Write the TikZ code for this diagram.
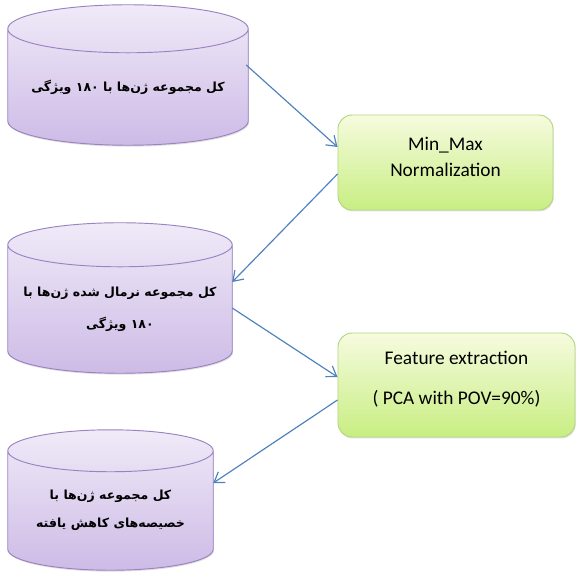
\documentclass[tikz,border=0pt]{standalone}
\usepackage{fontspec}
\setmainfont{Carlito}
\newfontfamily\farsi[Script=Arabic]{DejaVu Sans}
\TeXXeTstate=1
\usepackage{xcolor}
\usepackage{tikz}
\usetikzlibrary{arrows.meta,calc,shadows,backgrounds}

\definecolor{dbline}{HTML}{9A83C2}
\definecolor{dbtop}{HTML}{F0EAF8}
\definecolor{dbbot}{HTML}{CDBBE6}
\definecolor{boxline}{HTML}{B3D67E}
\definecolor{boxtop}{HTML}{F6FBDF}
\definecolor{boxbot}{HTML}{C8EE82}
\definecolor{flowblue}{HTML}{4F81BD}

% drum drawn behind a body node: #1 node name, #2 ellipse radius
\newcommand\dbdrum[2]{%
  \begin{scope}[on background layer]
    \path let \p1=(#1.north west), \p2=(#1.south east), \n1={(\x2-\x1)/2} in
      [drumpaint] (\x1,\y1) -- (\x1,\y2+#2)
        arc[start angle=180,end angle=360,x radius=\n1,y radius=#2]
        -- (\x2,\y1) arc[start angle=0,end angle=180,x radius=\n1,y radius=#2] -- cycle
      (\x1,\y1) arc[start angle=180,end angle=360,x radius=\n1,y radius=#2];
  \end{scope}}

\begin{document}
\begin{tikzpicture}[x=0.03cm,y=-0.03cm,>={Straight Barb[length=8pt,width=11pt]},
  db/.style={align=center,inner sep=0pt,font=\farsi\bfseries\fontsize{10.7}{24}\selectfont},
  drumpaint/.style={draw=dbline,thick,top color=dbtop,bottom color=dbbot,
    drop shadow={opacity=0.25,shadow xshift=0.6pt,shadow yshift=-1.2pt}},
  procbox/.style={draw=boxline,thick,rounded corners=12pt,top color=boxtop,bottom color=boxbot,
    align=center,drop shadow={opacity=0.25,shadow xshift=0.6pt,shadow yshift=-1.2pt},
    font=\fontsize{16.5}{22}\selectfont},
  flow/.style={->,draw=flowblue,line width=1pt}]
  \useasboundingbox (0,0) rectangle (576,580);

  \node[db,minimum width=7.2cm,minimum height=3.48cm] (allGenes) at (128,87)
    {\beginR کل مجموعه ژن‌ها با ۱۸۰ ویژگی\endR};
  \dbdrum{allGenes}{20.5pt}
  \node[procbox,minimum width=6.45cm,minimum height=2.85cm,text depth=10pt] (minmax) at (445.5,162.5)
    {Min\_Max\\Normalization};
  \node[db,minimum width=6.72cm,minimum height=3.84cm,font=\farsi\bfseries\fontsize{10.7}{27}\selectfont] (normGenes) at (120,309)
    {\beginR کل مجموعه نرمال شده ژن‌ها با\endR\\\beginR ۱۸۰ ویژگی\endR};
  \dbdrum{normGenes}{18.8pt}
  \node[procbox,minimum width=7.11cm,minimum height=3.12cm,text depth=12pt,font=\fontsize{16.5}{34}\selectfont] (pca) at (456.5,385)
    {Feature extraction\\( PCA with POV=90\%)};
  \node[db,minimum width=6.15cm,minimum height=3.57cm] (redGenes) at (110.5,510.5)
    {\beginR کل مجموعه ژن‌ها با\endR\\\beginR خصیصه‌های کاهش یافته\endR};
  \dbdrum{redGenes}{17.9pt}

  % arrows between the stages
  \draw[flow] ($(allGenes.east)+(-2,-22)$) -- ($(minmax.west)+(0,-15.5)$);
  \draw[flow] ($(minmax.west)+(0,11.5)$) -- ($(normGenes.east)+(0,-27)$);
  \draw[flow] ($(normGenes.east)+(0,-1)$) -- ($(pca.west)+(0,-8)$);
  \draw[flow] ($(pca.west)+(0,15)$) -- ($(redGenes.east)+(0,-27.5)$);
\end{tikzpicture}
\end{document}
